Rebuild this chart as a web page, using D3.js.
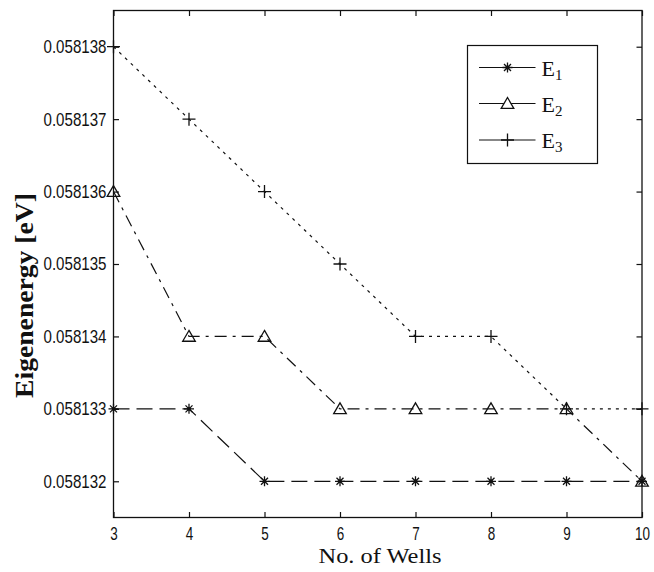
<!DOCTYPE html>
<html>
<head>
<meta charset="utf-8">
<script src="https://cdn.jsdelivr.net/npm/d3@7"></script>
<style>
  body { margin: 0; background: #fff; }
  svg { display: block; }
  .tick text { font-family: "Liberation Sans", Arial, sans-serif; font-size: 18.5px; fill: #111; }
</style>
</head>
<body>
<div id="chart"></div>
<script>
// data
var wells = [3, 4, 5, 6, 7, 8, 9, 10];
var e1 = [0.058133, 0.058133, 0.058132, 0.058132, 0.058132, 0.058132, 0.058132, 0.058132];
var e2 = [0.058136, 0.058134, 0.058134, 0.058133, 0.058133, 0.058133, 0.058133, 0.058132];
var e3 = [0.058138, 0.058137, 0.058136, 0.058135, 0.058134, 0.058134, 0.058133, 0.058133];
var yTicks = [0.058132, 0.058133, 0.058134, 0.058135, 0.058136, 0.058137, 0.058138];
var xTicks = [3, 4, 5, 6, 7, 8, 9, 10];
var seriesNames = ["E1", "E2", "E3"];

var W = 654, H = 572;
var margin = {top: 10.5, right: 12, bottom: 54.5, left: 113.5},
    width = W - margin.left - margin.right,
    height = H - margin.top - margin.bottom;

var svg = d3.select("#chart")
  .append("svg")
  .attr("width", W)
  .attr("height", H)
  .append("g")
  .attr("transform", "translate(" + margin.left + "," + margin.top + ")");

var x = d3.scaleLinear()
  .domain([3, 10])
  .range([0, width]);

var y = d3.scaleLinear()
  .domain([0.0581315, 0.0581385])
  .range([height, 0]);

var fmt = d3.format(".6f");
var tickLen = 5.5;

// axes, ticks pointing inward on all four sides
svg.append("g")
  .attr("transform", "translate(0," + height + ")")
  .call(d3.axisBottom(x).tickValues(xTicks).tickSize(-tickLen).tickPadding(9).tickFormat(d3.format("d")))
  .call(function(g) { g.select(".domain").remove(); })
  .selectAll(".tick text")
    .attr("textLength", function(d) { return String(d).length * 7.5; })
    .attr("lengthAdjust", "spacingAndGlyphs");
svg.append("g")
  .call(d3.axisTop(x).tickValues(xTicks).tickSize(-tickLen).tickFormat(""))
  .call(function(g) { g.select(".domain").remove(); });
svg.append("g")
  .call(d3.axisLeft(y).tickValues(yTicks).tickSize(-tickLen).tickPadding(7).tickFormat(fmt))
  .call(function(g) { g.select(".domain").remove(); })
  .selectAll(".tick text")
    .attr("textLength", 63)
    .attr("lengthAdjust", "spacingAndGlyphs");
svg.append("g")
  .attr("transform", "translate(" + width + ",0)")
  .call(d3.axisRight(y).tickValues(yTicks).tickSize(-tickLen).tickFormat(""))
  .call(function(g) { g.select(".domain").remove(); });

svg.selectAll(".tick line").attr("stroke", "#111").attr("stroke-width", 1.2);
svg.selectAll(".tick text").attr("fill", "#111");

svg.append("rect")
  .attr("width", width)
  .attr("height", height)
  .attr("fill", "none")
  .attr("stroke", "#111")
  .attr("stroke-width", 1.3);

// marker shapes
function asterisk(s) {
  var d = s * 0.7;
  return "M0," + (-s) + "V" + s + "M" + (-s) + ",0H" + s +
    "M" + (-d) + "," + (-d) + "L" + d + "," + d + "M" + (-d) + "," + d + "L" + d + "," + (-d);
}
function triangle(s) {
  return "M0," + (-s) + "L" + (s * 1.05) + "," + (s * 0.8) + "L" + (-s * 1.05) + "," + (s * 0.8) + "Z";
}
function plus(s) {
  return "M0," + (-s) + "V" + s + "M" + (-s) + ",0H" + s;
}

var series = [
  {name: "E1", values: e1, dash: "16,7", marker: asterisk(5), fill: "none", dot: true},
  {name: "E2", values: e2, dash: "12,6,3,6", marker: triangle(6), fill: "none", dot: false},
  {name: "E3", values: e3, dash: "3,5", marker: plus(6.5), fill: "none", dot: false}
];

var line = d3.line()
  .x(function(d) { return x(d[0]); })
  .y(function(d) { return y(d[1]); });

series.forEach(function(s) {
  var pts = wells.map(function(w, i) { return [w, s.values[i]]; });
  svg.append("path")
    .datum(pts)
    .attr("d", line)
    .attr("fill", "none")
    .attr("stroke", "#111")
    .attr("stroke-width", 1.2)
    .attr("stroke-dasharray", s.dash);
  svg.append("g")
    .selectAll("path")
    .data(pts)
    .enter()
    .append("path")
      .attr("transform", function(d) { return "translate(" + x(d[0]) + "," + y(d[1]) + ")"; })
      .attr("d", s.marker)
      .attr("fill", s.fill)
      .attr("stroke", "#111")
      .attr("stroke-width", 1.3);
  if (s.dot) {
    svg.append("g")
      .selectAll("circle")
      .data(pts)
      .enter()
      .append("circle")
        .attr("cx", function(d) { return x(d[0]); })
        .attr("cy", function(d) { return y(d[1]); })
        .attr("r", 1.8)
        .attr("fill", "#111");
  }
});

// axis labels
svg.append("text")
  .attr("x", 380 - margin.left)
  .attr("y", 563 - margin.top)
  .attr("text-anchor", "middle")
  .attr("font-family", "'Liberation Serif', 'Times New Roman', serif")
  .attr("font-size", 22)
  .attr("textLength", 123)
  .attr("lengthAdjust", "spacingAndGlyphs")
  .attr("fill", "#111")
  .text("No. of Wells");

svg.append("text")
  .attr("transform", "translate(" + (33 - margin.left) + "," + (295.5 - margin.top) + ") rotate(-90)")
  .attr("text-anchor", "middle")
  .attr("font-family", "'Liberation Serif', 'Times New Roman', serif")
  .attr("font-weight", "bold")
  .attr("font-size", 25)
  .attr("textLength", 205)
  .attr("lengthAdjust", "spacingAndGlyphs")
  .attr("fill", "#111")
  .text("Eigenenergy [eV]");

// legend
var lg = svg.append("g")
  .attr("transform", "translate(" + (467.5 - margin.left) + "," + (45.5 - margin.top) + ")");
lg.append("rect")
  .attr("width", 130)
  .attr("height", 118)
  .attr("fill", "#fff")
  .attr("stroke", "#111")
  .attr("stroke-width", 1.2);

var rowY = [22, 58, 94.5];
series.forEach(function(s, i) {
  var row = lg.append("g").attr("transform", "translate(0," + rowY[i] + ")");
  row.append("line")
    .attr("x1", 11.5).attr("x2", 68)
    .attr("stroke", "#111")
    .attr("stroke-width", 1.2);
  row.append("path")
    .attr("transform", "translate(40,0)")
    .attr("d", s.marker)
    .attr("fill", "#fff")
    .attr("stroke", "#111")
    .attr("stroke-width", 1.3);
  if (s.dot) {
    row.append("circle").attr("cx", 40).attr("r", 1.8).attr("fill", "#111");
  }
  var t = row.append("text")
    .attr("x", 74)
    .attr("y", 8)
    .attr("font-family", "'Liberation Serif', 'Times New Roman', serif")
    .attr("font-size", 22)
    .attr("fill", "#111");
  t.append("tspan").text(seriesNames[i].charAt(0));
  t.append("tspan")
    .attr("font-size", 15)
    .attr("dy", 4)
    .text(seriesNames[i].slice(1));
});
</script>
</body>
</html>
